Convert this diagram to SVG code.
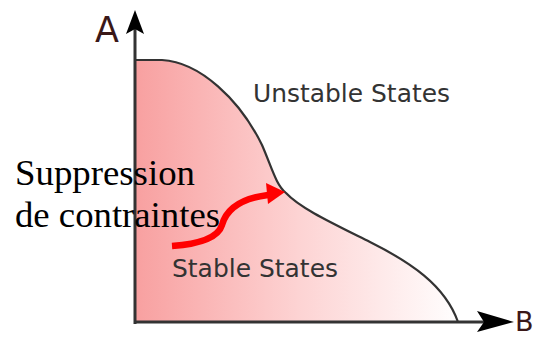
<svg xmlns="http://www.w3.org/2000/svg" width="543" height="337" viewBox="0 0 543 337">
<defs>
<linearGradient id="g" x1="135" y1="0" x2="462" y2="0" gradientUnits="userSpaceOnUse">
<stop offset="0" stop-color="#f8a0a0"/>
<stop offset="0.5" stop-color="#fdd3d3"/>
<stop offset="1" stop-color="#ffffff"/>
</linearGradient>
<style>
.ax{stroke:#333;stroke-width:3;fill:none}
.lbl{font-family:"DejaVu Sans",sans-serif;fill:#333;font-size:25px}
.axl{font-family:"DejaVu Sans",sans-serif;fill:#3a1818}
.fr{font-family:"Liberation Serif","Times New Roman",serif;fill:#000;font-size:36px}
</style>
</defs>
<g id="region">
<path d="M135,60 L162,60 C200,62 240,100 262,145 C272,168 276,185 286,193 C300,208 330,222 370,242 C410,262 445,285 458,322 L135,322 Z" fill="url(#g)"/>
<path d="M135,60 L162,60 C200,62 240,100 262,145 C272,168 276,185 286,193 C300,208 330,222 370,242 C410,262 445,285 458,322" fill="none" stroke="#333" stroke-width="2.2"/>
</g>
<g id="axes">
<path class="ax" d="M135,324 L135,28"/>
<path class="ax" d="M135,322 L496,322"/>
<path d="M135,10 L144,34 L135,29 L126,34 Z" fill="#000"/>
<path d="M514,322 L477,332 L484,322 L477,311 Z" fill="#000"/>
<text class="axl" x="95" y="42" font-size="35">A</text>
<text class="axl" x="515" y="331" font-size="27">B</text>
</g>
<g id="labels">
<text class="lbl" x="253" y="102" textLength="197" lengthAdjust="spacingAndGlyphs">Unstable States</text>
<text class="lbl" x="172" y="277" textLength="166" lengthAdjust="spacingAndGlyphs">Stable States</text>
<text class="fr" x="15" y="185" textLength="180" lengthAdjust="spacingAndGlyphs">Suppression</text>
<text class="fr" x="15" y="227" textLength="205" lengthAdjust="spacingAndGlyphs">de contraintes</text>
</g>
<g id="connectors">
<path d="M172,246 C200,244 218,238 222,225 C227,207 245,198 268,195" fill="none" stroke="#f00" stroke-width="6.5"/>
<path d="M285,192 L266,183 L268,204 Z" fill="#f00"/>
</g>
</svg>
